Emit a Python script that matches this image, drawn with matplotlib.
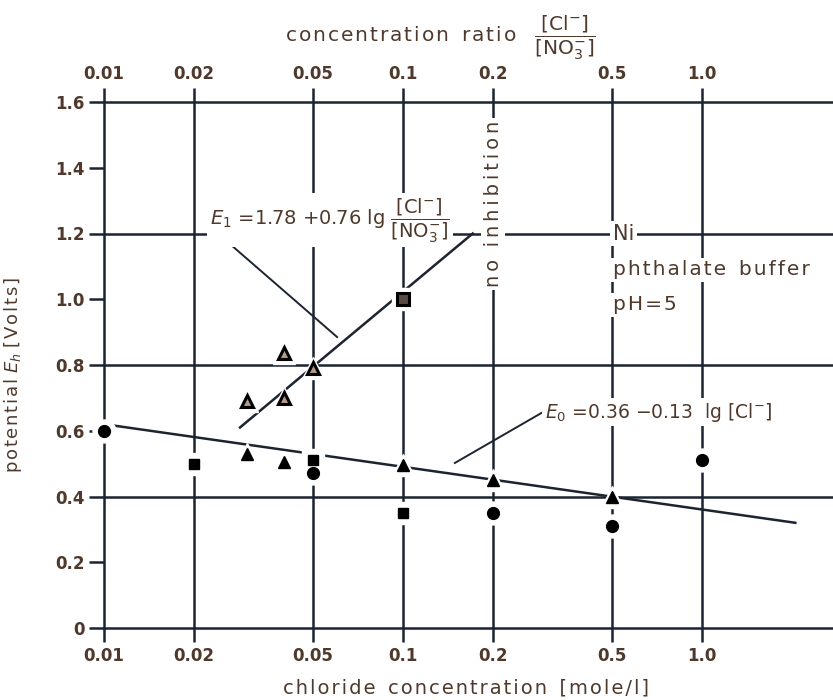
import numpy as np
import matplotlib
matplotlib.use('Agg')
import matplotlib.pyplot as plt

# chloride concentration [mole/l] (log scale)
tick_vals = [0.01, 0.02, 0.05, 0.1, 0.2, 0.5, 1.0]
tick_lbls = ['0.01', '0.02', '0.05', '0.1', '0.2', '0.5', '1.0']
ytick_vals = [0, 0.2, 0.4, 0.6, 0.8, 1.0, 1.2, 1.4, 1.6]
ytick_lbls = ['0', '0.2', '0.4', '0.6', '0.8', '1.0', '1.2', '1.4', '1.6']

# filled circles
circ_x = [0.01, 0.05, 0.2, 0.5, 1.0]
circ_y = [0.60, 0.47, 0.35, 0.31, 0.51]
# filled squares
sq_x = [0.02, 0.05, 0.1]
sq_y = [0.50, 0.51, 0.35]
# open square
osq_x = [0.1]
osq_y = [1.00]
# filled triangles
tri_x = [0.03, 0.04, 0.1, 0.2, 0.5]
tri_y = [0.53, 0.505, 0.495, 0.45, 0.40]
# open triangles
otri_x = [0.03, 0.04, 0.04, 0.05]
otri_y = [0.69, 0.70, 0.835, 0.79]

# fitted lines (end points)
e1_x = [0.0285, 0.171]
e1_y = [0.61, 1.20]
e0_x = [0.01, 2.05]
e0_y = [0.62, 0.32]

# leader lines: (point on curve, end at label)
e1_lead = [(0.0602, 0.885), (0.027, 1.16)]
e0_lead = [(0.149, 0.502), (0.294, 0.657)]

LINE = '#1b2430'
TEXT = '#4f392c'

plt.rcParams['font.family'] = ['DejaVu Sans']
plt.rcParams['mathtext.fontset'] = 'dejavusans'


def sp(s, gap='\u200a'):
    # the lettering in the drawing is widely spaced
    return gap.join(s)


fig = plt.figure(figsize=(8.33, 7.0), dpi=100)
ax = fig.add_axes([104 / 833, 72 / 700, 729 / 833, 526 / 700])
ax.set_xscale('log')
ax.set_xlim(0.01, 2.74)
ax.set_ylim(0, 1.6)

lw = 1.8
ax.set_xticks(tick_vals)
ax.set_xticklabels(tick_lbls, fontweight='bold')
ax.minorticks_off()
ax.set_yticks(ytick_vals)
ax.set_yticklabels(ytick_lbls, fontweight='bold')
ax.tick_params(axis='x', which='major', direction='out', length=10, width=lw, pad=4,
               top=True, labeltop=True, colors=LINE, labelcolor=TEXT, labelsize=12)
ax.tick_params(axis='y', which='major', direction='out', length=11, width=lw, pad=3,
               colors=LINE, labelcolor=TEXT, labelsize=12)
for sp_name in ['top', 'bottom', 'left']:
    ax.spines[sp_name].set_color(LINE)
    ax.spines[sp_name].set_linewidth(lw)
ax.spines['right'].set_visible(False)

for xv in tick_vals[1:]:
    ax.axvline(xv, color=LINE, lw=lw, zorder=1)
for yv in [0.4, 0.8, 1.2]:
    ax.axhline(yv, color=LINE, lw=lw, zorder=1)

ax.plot(e1_x, e1_y, color=LINE, lw=lw, zorder=2)
ax.plot(e0_x, e0_y, color=LINE, lw=lw, zorder=2)
for lead in (e1_lead, e0_lead):
    ax.plot([lead[0][0], lead[1][0]], [lead[0][1], lead[1][1]], color=LINE, lw=1.4, zorder=2)


def marks(x, y, m, ms, fc, mew=1.0):
    # white halo under each mark, as in the drawing
    ax.plot(x, y, ls='none', marker=m, ms=ms + 8, mfc='white', mec='white', zorder=3,
            clip_on=False)
    ax.plot(x, y, ls='none', marker=m, ms=ms, mfc=fc, mec='black', mew=mew, zorder=4,
            clip_on=False)


marks(circ_x, circ_y, 'o', 8.5, 'black')
marks(sq_x, sq_y, 's', 7.5, 'black')
marks(osq_x, osq_y, 's', 8.5, '#5a4a44', mew=2.2)
marks(tri_x, tri_y, '^', 8.5, 'black')
marks(otri_x, otri_y, '^', 8.5, '#b59a8a', mew=2.2)

box = dict(facecolor='white', edgecolor='none', pad=2)
frac = r'$\dfrac{[\mathrm{Cl}^{-}]}{[\mathrm{NO}_3^{-}]}$'
ax.text(0.0226, 1.24, r'$E_1$ =1.78 +0.76 lg ' + frac,
        color=TEXT, fontsize=14, va='center', ha='left', bbox=box, zorder=5)
ax.text(0.2985, 0.657, r'$E_0$ =0.36 $-$0.13  lg [Cl$^{-}$]',
        color=TEXT, fontsize=13.5, va='center', ha='left', bbox=box, zorder=5)
ax.text(0.2, 1.29, sp('no', '\u2009') + '  ' + sp('inhibition', '\u2009'), rotation=90,
        color=TEXT, fontsize=14, va='center', ha='center', bbox=box, zorder=5)
ax.text(0.504, 1.2, 'Ni', color=TEXT, fontsize=15, va='center', ha='left', bbox=box,
        zorder=5)
ax.text(0.504, 1.089, sp('phthalate') + '  ' + sp('buffer'), color=TEXT, fontsize=14.5,
        va='center', ha='left', bbox=box, zorder=5)
ax.text(0.504, 0.983, sp('pH=5'), color=TEXT, fontsize=14.5, va='center', ha='left',
        bbox=box, zorder=5)

fig.text(285 / 833, 1 - 38 / 700,
         sp('concentration') + '  ' + sp('ratio') + '   ' + frac,
         color=TEXT, fontsize=14.5, ha='left', va='center')
fig.text(283 / 833, 1 - 688 / 700,
         sp('chloride') + '  ' + sp('concentration') + '  ' + sp('[mole/l]'),
         color=TEXT, fontsize=14, ha='left', va='center')
fig.text(13 / 833, 1 - 375 / 700,
         sp('potential') + r' $E_h$ ' + sp('[Volts]'), rotation=90,
         color=TEXT, fontsize=13, ha='center', va='center')

fig.savefig('out.png', dpi=100)
